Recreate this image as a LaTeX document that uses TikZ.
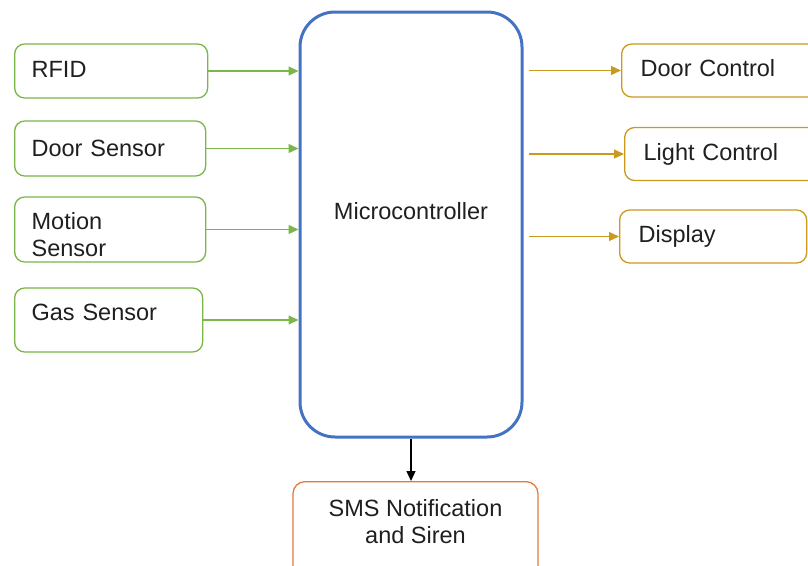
\documentclass[tikz,border=0pt]{standalone}
\usepackage{fontspec}
\setmainfont{Liberation Sans}
\usepackage{xcolor}
\usetikzlibrary{arrows.meta}
\definecolor{ingreen}{HTML}{7AB648}
\definecolor{mcblue}{HTML}{4472C4}
\definecolor{outgold}{HTML}{C99A1E}
\definecolor{smsorange}{HTML}{E07B39}
\begin{document}
\begin{tikzpicture}[x=1pt,y=-1pt,
    font=\fontsize{23.5pt}{27pt}\selectfont, text=black!88,
    inbox/.style={draw=ingreen,line width=1.3pt,rounded corners=10pt,anchor=west,align=left,inner xsep=17pt},
    outbox/.style={draw=outgold,line width=1.3pt,rounded corners=10pt,anchor=west,align=left,inner xsep=19pt,minimum height=53pt},
    garrow/.style={draw=ingreen,line width=1.3pt,-{Triangle[length=10pt,width=9pt]}},
    oarrow/.style={draw=outgold,line width=1.3pt,shorten <=5pt,-{Triangle[length=10pt,width=9pt]}}]
                \useasboundingbox (0,0) rectangle (808,565);
                \clip (0,0) rectangle (808,565);
                % controller in the middle
                \node[draw=mcblue,line width=3pt,rounded corners=35pt,minimum width=222pt,minimum height=425pt,text depth=28pt] (micro) at (411,224.5) {Microcontroller};
                % inputs
                \node[inbox,text width=159pt,minimum height=54pt,text depth=4pt] (rfid) at (14,71) {RFID};
                \node[inbox,text width=157pt,minimum height=55pt] (doorsens) at (14,148.5) {Door Sensor};
                \node[inbox,text width=157pt,minimum height=65pt] (motion) at (14,229.5) {\rule{0pt}{27pt}Motion\\Sensor};
                \node[inbox,text width=154pt,minimum height=64pt,text depth=16pt] (gas) at (14,320) {Gas Sensor};
                % outputs
                \node[outbox,text width=200pt,text depth=6pt] (doorctl) at (621,70.5) {Door Control};
                \node[outbox,text width=200pt] (lightctl) at (624,154) {Light Control};
                \node[outbox,text width=149pt] (display) at (619,236.5) {Display};
                \node[draw=smsorange,line width=1.3pt,rounded corners=12pt,anchor=north,minimum width=245pt,minimum height=100pt,align=center,text depth=21pt] (sms) at (415.5,481) {SMS Notification\\and Siren};
                \foreach \src in {rfid,doorsens,motion,gas}
                    \draw[garrow] (\src.east) -- (\src.east -| micro.west);
                \foreach \dst in {doorctl,lightctl,display}
                    \draw[oarrow] (micro.east |- \dst.west) -- (\dst.west);
                \draw[line width=1.3pt,-{Triangle[length=10pt,width=9pt]}] (micro.south) -- (micro.south |- sms.north);
            \end{tikzpicture}
\end{document}
